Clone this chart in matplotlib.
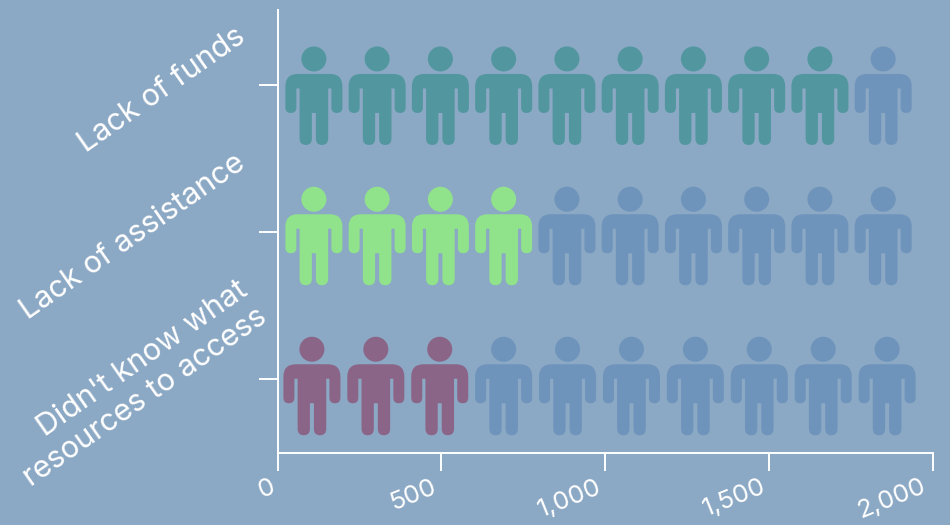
import matplotlib
matplotlib.use("Agg")
import matplotlib.pyplot as plt
import numpy as np
from matplotlib.path import Path
from matplotlib.transforms import ScaledTranslation

categories = ["Didn't know what\nresources to access", "Lack of assistance", "Lack of funds"]
values = [600, 800, 1800]
unit_value = 200
icons_per_row = 10
x_ticks = [0, 500, 1000, 1500, 2000]
x_tick_labels = ["0", "500", "1,000", "1,500", "2,000"]
colors = ["#8B6588", "#90E38B", "#52979F"]

BG = "#8BA8C4"
EMPTY = "#6F94BB"
W, H = 950, 525
L, R, T, B = 277.5, 933, 10, 453

# layout of the icon rows (first icon, spacing, vertical shift in pixels)
row_x0 = [105, 111, 111]
row_step = [195, 193, 193]
row_dy_px = [-7, -4, -10.7]
# shift of the category labels in pixels (right, up)
label_shift_px = [(22, -5), (0, -5), (0, -5)]
# horizontal shift of the x tick labels in pixels
xlabel_shift_px = [1, -1, 0, 0, -4]


def person_path():
    """Person pictogram in pixel units, centred on the origin, y up."""
    cy = 49.25
    verts, codes = [], []
    k = 0.5523

    def circle(cx, c_y, r):
        pts = [(cx + r, c_y), (cx + r, c_y + k * r), (cx + k * r, c_y + r), (cx, c_y + r),
               (cx - k * r, c_y + r), (cx - r, c_y + k * r), (cx - r, c_y),
               (cx - r, c_y - k * r), (cx - k * r, c_y - r), (cx, c_y - r),
               (cx + k * r, c_y - r), (cx + r, c_y - k * r), (cx + r, c_y), (cx + r, c_y)]
        verts.extend(pts)
        codes.extend([Path.MOVETO] + [Path.CURVE4] * 12 + [Path.CLOSEPOLY])

    circle(0, cy - 12.5, 12.5)

    y = lambda v: cy - v  # distance from icon top
    body = [
        ("M", (-16, y(27.5))), ("L", (16, y(27.5))),
        ("Q", (28.5, y(27.5))), ("Q", (28.5, y(40))),
        ("L", (28.5, y(61))),
        ("Q", (28.5, y(66.5))), ("Q", (23, y(66.5))),
        ("Q", (17.5, y(66.5))), ("Q", (17.5, y(61))),
        ("L", (17.5, y(42))), ("L", (14.3, y(42))),
        ("L", (14.3, y(92))),
        ("Q", (14.3, y(98.5))), ("Q", (8, y(98.5))),
        ("Q", (2, y(98.5))), ("Q", (2, y(92))),
        ("L", (2, y(66.5))), ("L", (-2, y(66.5))),
        ("L", (-2, y(92))),
        ("Q", (-2, y(98.5))), ("Q", (-8, y(98.5))),
        ("Q", (-14.3, y(98.5))), ("Q", (-14.3, y(92))),
        ("L", (-14.3, y(42))), ("L", (-17.5, y(42))),
        ("L", (-17.5, y(61))),
        ("Q", (-17.5, y(66.5))), ("Q", (-23, y(66.5))),
        ("Q", (-28.5, y(66.5))), ("Q", (-28.5, y(61))),
        ("L", (-28.5, y(40))),
        ("Q", (-28.5, y(27.5))), ("Q", (-16, y(27.5))),
    ]
    code = {"M": Path.MOVETO, "L": Path.LINETO, "Q": Path.CURVE3}
    for c, p in body:
        codes.append(code[c])
        verts.append(p)
    verts.append(body[0][1])
    codes.append(Path.CLOSEPOLY)
    return Path(np.array(verts), codes)


plt.rcParams["font.family"] = ["Inter", "DejaVu Sans"]
fig = plt.figure(figsize=(W / 100, H / 100), dpi=100, facecolor=BG)
ax = fig.add_axes([L / W, 1 - B / H, (R - L) / W, (B - T) / H], facecolor=BG)

ax.set_xlim(0, 2000)
ax.set_ylim(-74 / 147, 2 + 75 / 147)
px_per_y = 147

marker = person_path()
size = (98.5 * 0.72) ** 2
for row, val in enumerate(values):
    filled = val // unit_value
    xs = [row_x0[row] + i * row_step[row] for i in range(icons_per_row)]
    ys = [row + row_dy_px[row] / px_per_y] * icons_per_row
    cols = [colors[row] if i < filled else EMPTY for i in range(icons_per_row)]
    ax.scatter(xs, ys, s=size, marker=marker, c=cols, linewidths=0, zorder=2, clip_on=False)

for s in ["top", "right"]:
    ax.spines[s].set_visible(False)
for s in ["left", "bottom"]:
    ax.spines[s].set_color("white")
    ax.spines[s].set_linewidth(1.4)

ax.set_xticks(x_ticks)
ax.set_xticklabels(x_tick_labels, rotation=22, ha="right", va="top",
                   fontsize=18.5, color="white")
ax.set_yticks(range(len(categories)))
ax.set_yticklabels(categories, rotation=35, ha="right", va="center",
                   multialignment="right", fontsize=21.9, color="white", linespacing=1.25)
ax.tick_params(axis="x", length=13, width=1.4, color="white", pad=3)
ax.tick_params(axis="y", length=13.5, width=1.4, color="white", pad=6)

for lab, (dx, dy) in zip(ax.get_yticklabels(), label_shift_px):
    lab.set_transform(lab.get_transform() + ScaledTranslation(dx / 100, dy / 100, fig.dpi_scale_trans))
for lab, dx in zip(ax.get_xticklabels(), xlabel_shift_px):
    lab.set_transform(lab.get_transform() + ScaledTranslation(dx / 100, 0, fig.dpi_scale_trans))

fig.savefig("out.png", dpi=100, facecolor=BG)
